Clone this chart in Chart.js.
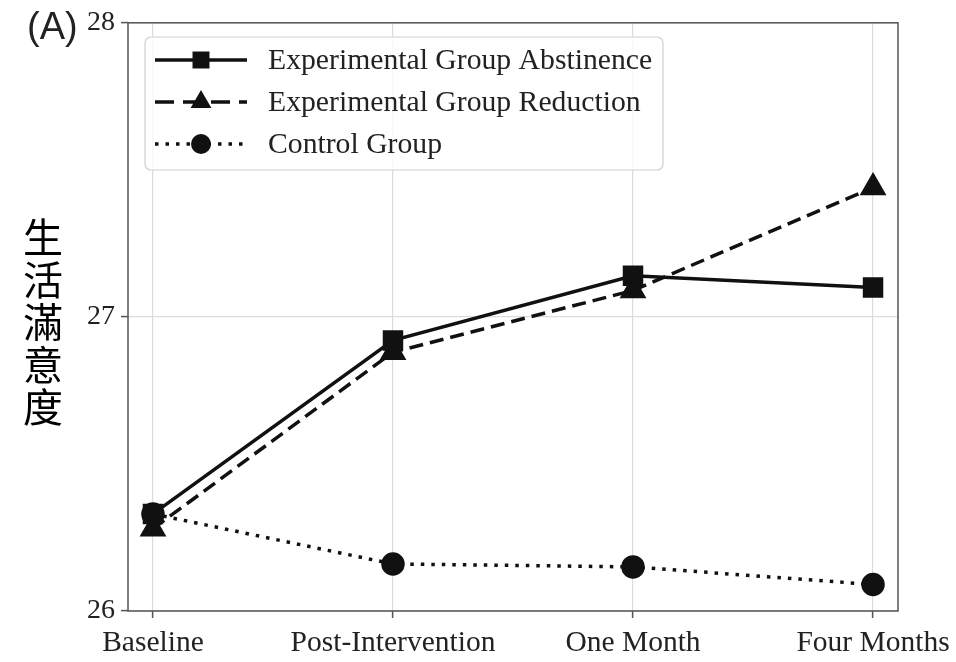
<!DOCTYPE html>
<html lang="zh-Hant">
<head>
    <meta charset="UTF-8">
    <title>生活滿意度</title>
    <script src="https://cdn.jsdelivr.net/npm/chart.js@4.4.1/dist/chart.umd.min.js"></script>
    <style>
        html, body { margin: 0; padding: 0; background: #fff; }
        #wrap { width: 956px; height: 662px; }
    </style>
</head>
<body>
    <div id="wrap"><canvas id="satisfactionChart" width="956" height="662"></canvas></div>

    <script>
        // Time points and group means
        const timePoints = ["Baseline", "Post-Intervention", "One Month", "Four Months"];
        const abstinence = [26.33, 26.92, 27.14, 27.10];
        const reduction = [26.28, 26.88, 27.09, 27.44];
        const control = [26.33, 26.16, 26.15, 26.09];
        const yTicks = [26, 27, 28];
        const yTitle = "生活滿意度";
        const panelLabel = "(A)";

        const INK = "#111";
        const serif = "'Liberation Serif', 'Times New Roman', serif";

        function toPoints(values) {
            return values.map((v, i) => ({ x: i, y: v }));
        }

        // marker drawing shared by the legend
        function drawMarker(ctx, style, x, y, r) {
            ctx.beginPath();
            if (style === "rect") {
                const s = Math.SQRT1_2 * r;
                ctx.rect(x - s, y - s, 2 * s, 2 * s);
            } else if (style === "triangle") {
                ctx.moveTo(x, y - r);
                ctx.lineTo(x + r * Math.sin(Math.PI / 3), y + r / 2);
                ctx.lineTo(x - r * Math.sin(Math.PI / 3), y + r / 2);
                ctx.closePath();
            } else {
                ctx.arc(x, y, r, 0, Math.PI * 2);
            }
            ctx.fill();
        }

        const frameAndLabels = {
            id: "frameAndLabels",
            afterDraw(chart) {
                const ctx = chart.ctx;
                const a = chart.chartArea;
                ctx.save();

                // axes box
                ctx.strokeStyle = "#555";
                ctx.lineWidth = 1.5;
                ctx.strokeRect(a.left, a.top, a.right - a.left, a.bottom - a.top);

                // legend box
                const lx = 145, ly = 37, lw = 518, lh = 133;
                ctx.beginPath();
                ctx.roundRect(lx, ly, lw, lh, 6);
                ctx.fillStyle = "rgba(255,255,255,0.8)";
                ctx.fill();
                ctx.strokeStyle = "#cfcfcf";
                ctx.lineWidth = 1.2;
                ctx.stroke();

                chart.data.datasets.forEach((ds, i) => {
                    const y = 60 + i * 42;
                    ctx.strokeStyle = INK;
                    ctx.fillStyle = INK;
                    ctx.lineWidth = ds.borderWidth;
                    ctx.setLineDash(ds.legendDash);
                    ctx.beginPath();
                    ctx.moveTo(155, y);
                    ctx.lineTo(247, y);
                    ctx.stroke();
                    ctx.setLineDash([]);
                    drawMarker(ctx, ds.pointStyle, 201, y, ds.pointRadius);

                    ctx.font = "29.7px " + serif;
                    ctx.fillStyle = "#222";
                    ctx.textAlign = "left";
                    ctx.textBaseline = "middle";
                    ctx.fillText(ds.label, 268, y + 1);
                });

                // panel label
                ctx.fillStyle = "#222";
                ctx.font = "38px 'Liberation Sans', Arial, sans-serif";
                ctx.textAlign = "left";
                ctx.textBaseline = "middle";
                ctx.fillText(panelLabel, 27, 29);

                // vertical y-axis title, one character per line
                ctx.fillStyle = "#000";
                ctx.font = "40px 'Noto Sans CJK TC', sans-serif";
                ctx.textAlign = "center";
                Array.from(yTitle).forEach((ch, i) => {
                    ctx.fillText(ch, 43, 237 + i * 42.5);
                });
                ctx.restore();
            }
        };

        const ctx = document.getElementById("satisfactionChart").getContext("2d");

        new Chart(ctx, {
            type: "line",
            data: {
                datasets: [
                    {
                        label: "Experimental Group Abstinence",
                        data: toPoints(abstinence),
                        borderColor: INK,
                        backgroundColor: INK,
                        borderWidth: 3.5,
                        pointStyle: "rect",
                        pointRadius: 12,
                        legendDash: []
                    },
                    {
                        label: "Experimental Group Reduction",
                        data: toPoints(reduction),
                        borderColor: INK,
                        backgroundColor: INK,
                        borderWidth: 3.5,
                        borderDash: [14, 7],
                        pointStyle: "triangle",
                        pointRadius: 12,
                        legendDash: [19, 9]
                    },
                    {
                        label: "Control Group",
                        data: toPoints(control),
                        borderColor: INK,
                        backgroundColor: INK,
                        borderWidth: 3.5,
                        borderDash: [3.5, 7],
                        pointStyle: "circle",
                        pointRadius: 10,
                        legendDash: [3.5, 7]
                    }
                ]
            },
            options: {
                responsive: false,
                animation: false,
                devicePixelRatio: 1,
                layout: { padding: { left: 0, top: 21, right: 58, bottom: 0 } },
                plugins: {
                    legend: { display: false },
                    tooltip: { enabled: false }
                },
                elements: {
                    line: { tension: 0, borderCapStyle: "butt" },
                    point: { borderWidth: 0 }
                },
                scales: {
                    x: {
                        type: "linear",
                        min: -0.104,
                        max: 3.104,
                        afterBuildTicks(scale) {
                            scale.ticks = timePoints.map((_, i) => ({ value: i }));
                        },
                        afterFit(scale) {
                            scale.height = 51;
                            scale.paddingLeft = 0;
                            scale.paddingRight = 0;
                        },
                        ticks: {
                            callback: (v) => timePoints[v],
                            color: "#222",
                            font: { family: serif, size: 29.5 },
                            padding: 8,
                            maxRotation: 0,
                            autoSkip: false
                        },
                        grid: {
                            color: "#dcdcdc",
                            lineWidth: 1.2,
                            tickLength: 7,
                            tickColor: "#555",
                            tickWidth: 1.5
                        },
                        border: { display: false }
                    },
                    y: {
                        min: 26,
                        max: 28,
                        afterBuildTicks(scale) {
                            scale.ticks = yTicks.map(v => ({ value: v }));
                        },
                        afterFit(scale) { scale.width = 128; },
                        ticks: {
                            color: "#222",
                            font: { family: serif, size: 28 },
                            padding: 6
                        },
                        grid: {
                            color: "#dcdcdc",
                            lineWidth: 1.2,
                            tickLength: 7,
                            tickColor: "#555",
                            tickWidth: 1.5
                        },
                        border: { display: false }
                    }
                }
            },
            plugins: [frameAndLabels]
        });
    </script>
</body>
</html>
